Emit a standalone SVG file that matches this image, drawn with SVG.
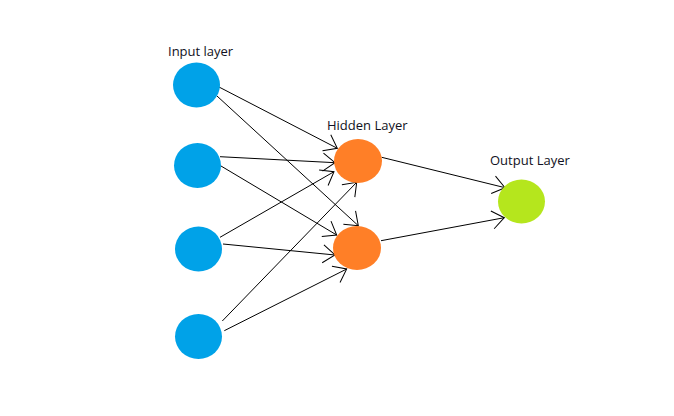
<svg xmlns="http://www.w3.org/2000/svg" width="674" height="416" viewBox="0 0 674 416">
  <style>
    .input { fill: #00a2e8; }
    .hidden { fill: #ff7f27; }
    .output { fill: #b5e61d; }
    .label { font-family: "Open Sans", "Liberation Sans", sans-serif; font-size: 13px; fill: #111122; }
    .edge { stroke: #000; stroke-width: 1; fill: none; marker-end: url(#arrow); }
  </style>
  <defs>
    <marker id="arrow" markerUnits="userSpaceOnUse" orient="auto" viewBox="-14 -11 16 22" refX="0" refY="0" markerWidth="16" markerHeight="22">
      <path d="M-12,-9 L0,0 L-12,9" fill="none" stroke="#000" stroke-width="1"/>
    </marker>
  </defs>
  <rect width="674" height="416" fill="#fff"/>

  <g id="connectors">
    <line class="edge" x1="219" y1="87" x2="337.3" y2="148.3"/>
    <line class="edge" x1="217" y1="96" x2="358.3" y2="225.7"/>
    <line class="edge" x1="220" y1="156.7" x2="335" y2="162.7"/>
    <line class="edge" x1="221" y1="166" x2="336.7" y2="235"/>
    <line class="edge" x1="220" y1="237.3" x2="334" y2="171.7"/>
    <line class="edge" x1="223" y1="244" x2="335" y2="255"/>
    <line class="edge" x1="222.3" y1="321" x2="356.7" y2="182.3"/>
    <line class="edge" x1="224.3" y1="330.7" x2="346.7" y2="269"/>
    <line class="edge" x1="381.7" y1="157.3" x2="505" y2="187.7"/>
    <line class="edge" x1="381" y1="240.7" x2="504.3" y2="217.7"/>
  </g>

  <g id="input1"><ellipse class="input" cx="196.5" cy="85" rx="23.5" ry="22.5"/></g>
  <g id="input2"><ellipse class="input" cx="197.5" cy="165.5" rx="23.5" ry="22.5"/></g>
  <g id="input3"><ellipse class="input" cx="198.5" cy="249" rx="23.5" ry="22.5"/></g>
  <g id="input4"><ellipse class="input" cx="198.5" cy="336.5" rx="23.5" ry="22.5"/></g>
  <g id="hidden1"><ellipse class="hidden" cx="358" cy="161" rx="24" ry="22"/></g>
  <g id="hidden2"><ellipse class="hidden" cx="357" cy="248" rx="24" ry="22"/></g>
  <g id="output1"><ellipse class="output" cx="521.5" cy="201.5" rx="23.5" ry="22"/></g>

  <g id="labels">
    <text class="label" x="168" y="55.5">Input layer</text>
    <text class="label" x="327" y="130">Hidden Layer</text>
    <text class="label" x="490" y="164.5">Output Layer</text>
  </g>
</svg>
